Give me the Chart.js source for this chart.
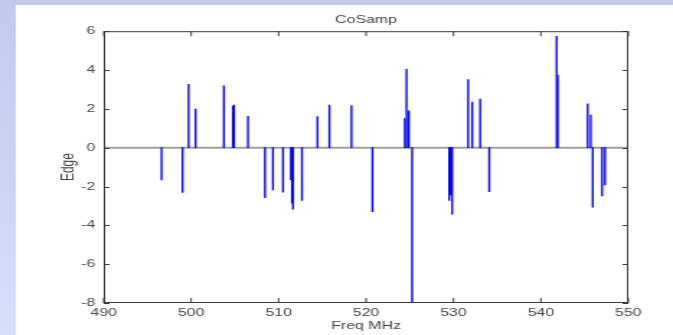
<!DOCTYPE html>
<html>
<head>
<meta charset="utf-8">
<script src="https://cdn.jsdelivr.net/npm/chart.js@4/dist/chart.umd.min.js"></script>
<style>
html, body { margin: 0; padding: 0; background: #fff; overflow: hidden; }
/* the reference picture is a horizontally stretched figure, so draw narrow and stretch */
#myChart { display: block; transform: scaleX(1.4411); transform-origin: 0 0; }
</style>
</head>
<body>
<canvas id="myChart" width="467" height="335"></canvas>
<script>
// stem positions (MHz) and edge values
var freqs = [496.61, 499.01, 499.70, 500.50, 503.74, 504.77, 504.89, 506.49,
             508.44, 509.35, 510.50, 511.41, 511.53, 511.64, 512.67, 514.44,
             515.81, 518.33, 520.73, 524.43, 524.63, 524.89, 525.27, 529.51,
             529.62, 529.74, 529.85, 531.68, 532.14, 533.05, 534.09, 541.80,
             541.92, 545.35, 545.70, 545.93, 547.00, 547.33];
var edges = [-1.66, -2.31, 3.26, 1.99, 3.18, 2.14, 2.19, 1.61,
             -2.58, -2.17, -2.29, -1.66, -2.86, -3.17, -2.72, 1.60,
             2.20, 2.17, -3.30, 1.50, 4.03, 1.90, -8.0, -2.72,
             -2.40, -2.45, -3.42, 3.51, 2.35, 2.50, -2.26, 5.74,
             3.73, 2.26, 1.68, -3.06, -2.48, -1.92];
var xTicks = [490, 500, 510, 520, 530, 540, 550];
var yTicks = [-8, -6, -4, -2, 0, 2, 4, 6];

var points = freqs.map(function (f, i) { return { x: f, y: edges[i] }; });

var fontFam = '"Liberation Sans", Arial, Helvetica, sans-serif';
var textCol = '#454545';

// matlab-ish frame: slide background, zero baseline, box with inward ticks
var matlabBox = {
    id: 'matlabBox',
    afterLayout: function (chart) {
        // matlab centres the title over the axes, not the figure
        if (chart.titleBlock) {
            chart.titleBlock.left = chart.chartArea.left;
            chart.titleBlock.right = chart.chartArea.right;
        }
    },
    beforeDraw: function (chart) {
        var c = chart.ctx, w = chart.width, h = chart.height;
        c.save();
        var g = c.createLinearGradient(0, 0, 0, h);
        g.addColorStop(0, '#c2c9ef');
        g.addColorStop(1, '#d6dffa');
        c.fillStyle = g;
        c.fillRect(0, 0, w, h);
        c.fillStyle = '#c2c9ef';
        c.fillRect(0, 0, w, 5);
        c.fillStyle = '#ffffff';
        c.fillRect(11, 5, w - 11, h - 5);
        c.restore();
    },
    beforeDatasetsDraw: function (chart) {
        var c = chart.ctx, a = chart.chartArea;
        var y0 = chart.scales.y.getPixelForValue(0);
        c.save();
        c.strokeStyle = '#a0a0a0';
        c.lineWidth = 2;
        c.beginPath();
        c.moveTo(a.left, y0);
        c.lineTo(a.right, y0);
        c.stroke();
        c.restore();
    },
    afterDatasetsDraw: function (chart) {
        var c = chart.ctx, a = chart.chartArea;
        var xs = chart.scales.x, ys = chart.scales.y;
        c.save();
        c.strokeStyle = '#3c3c3c';
        c.lineWidth = 1;
        c.strokeRect(a.left + 0.5, a.top + 0.5, a.right - a.left - 1, a.bottom - a.top - 1);
        c.beginPath();
        xTicks.forEach(function (v) {
            var px = xs.getPixelForValue(v);
            c.moveTo(px, a.bottom); c.lineTo(px, a.bottom - 5);
            c.moveTo(px, a.top); c.lineTo(px, a.top + 5);
        });
        yTicks.forEach(function (v) {
            var py = Math.round(ys.getPixelForValue(v)) + 0.5;
            c.moveTo(a.left, py); c.lineTo(a.left + 4, py);
            c.moveTo(a.right, py); c.lineTo(a.right - 4, py);
        });
        c.stroke();
        c.restore();
    }
};

var ctx = document.getElementById('myChart');
var myChart = new Chart(ctx, {
    type: 'bar',
    data: {
        datasets: [{
            label: 'Edge',
            data: points,
            backgroundColor: '#0000ff',
            borderWidth: 0,
            barThickness: 0.7
        }]
    },
    plugins: [matlabBox],
    options: {
        responsive: false,
        animation: false,
        layout: { padding: { left: 0, top: 0, right: 31, bottom: 0 } },
        plugins: {
            legend: { display: false },
            tooltip: { enabled: false },
            title: {
                display: true,
                text: 'CoSamp',
                color: textCol,
                font: { family: fontFam, size: 11, weight: 'normal' },
                padding: { top: 13, bottom: 5 }
            }
        },
        scales: {
            x: {
                type: 'linear',
                min: 490,
                max: 550,
                offset: false,
                grid: { display: false, drawTicks: false, offset: false },
                border: { display: false },
                afterBuildTicks: function (s) { s.ticks = xTicks.map(function (v) { return { value: v }; }); },
                afterFit: function (s) { s.height = 32; },
                ticks: {
                    color: textCol,
                    padding: 3,
                    maxRotation: 0,
                    autoSkip: false,
                    font: { family: fontFam, size: 11 }
                },
                title: {
                    display: true,
                    text: 'Freq MHz',
                    color: textCol,
                    font: { family: fontFam, size: 11 },
                    padding: { top: 0, bottom: 2 }
                }
            },
            y: {
                min: -8,
                max: 6,
                grid: { display: false, drawTicks: false },
                border: { display: false },
                afterBuildTicks: function (s) { s.ticks = yTicks.map(function (v) { return { value: v }; }); },
                afterFit: function (s) { s.width = 72; },
                ticks: {
                    color: textCol,
                    padding: 6,
                    font: { family: fontFam, size: 11 }
                },
                title: {
                    display: true,
                    text: 'Edge',
                    color: textCol,
                    font: { family: fontFam, size: 12 },
                    padding: { top: 40, bottom: 0 }
                }
            }
        }
    }
});
</script>
</body>
</html>
